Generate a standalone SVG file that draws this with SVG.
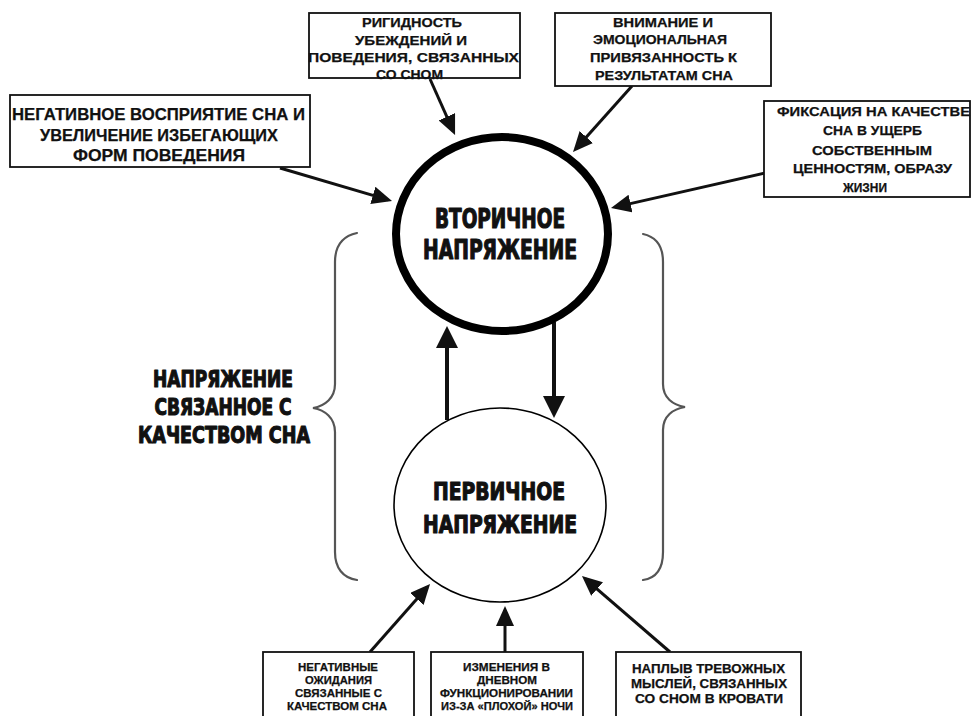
<svg xmlns="http://www.w3.org/2000/svg" width="971" height="716" viewBox="0 0 971 716">
<defs>
<style>
.box{fill:#fff;stroke:#111;stroke-width:1.8}
.bt{font-family:"Liberation Sans",Arial,sans-serif;font-weight:bold;text-anchor:middle;fill:#111;stroke:#111;stroke-width:0.25}
.s13{font-size:13px}
.s11{font-size:11px}
.s16{font-size:16.5px}
.hd{font-family:"DejaVu Sans Condensed","DejaVu Sans",sans-serif;font-weight:bold;text-anchor:middle;fill:#111;stroke:#111;stroke-width:1.1;stroke-linejoin:round}
.brace{fill:none;stroke:#555;stroke-width:2.2;stroke-linecap:round}
.arr{stroke:#111;stroke-width:3;fill:none;marker-end:url(#ah)}
.arrT{stroke:#111;stroke-width:4;fill:none;marker-end:url(#ahT)}
</style>
<marker id="ah" viewBox="0 0 20 18" markerWidth="20" markerHeight="18" refX="16" refY="9" orient="auto" markerUnits="userSpaceOnUse">
<path d="M0,0 L20,9 L0,18 z" fill="#111"/>
</marker>
<marker id="ahT" viewBox="0 0 22 22" markerWidth="22" markerHeight="22" refX="18" refY="11" orient="auto" markerUnits="userSpaceOnUse">
<path d="M0,0 L22,11 L0,22 z" fill="#111"/>
</marker>
</defs>
<rect width="971" height="716" fill="#fff"/>

<g id="connectors">
<line class="arr" x1="430" y1="79" x2="453.4" y2="131.3"/>
<line class="arr" x1="280" y1="168" x2="388.2" y2="199.9"/>
<line class="arr" x1="632" y1="86" x2="575.7" y2="149"/>
<line class="arr" x1="765" y1="173" x2="614.9" y2="207.1"/>
<line class="arrT" x1="447" y1="420" x2="447" y2="330"/>
<line class="arrT" x1="554" y1="322" x2="554" y2="414"/>
<line class="arr" x1="370" y1="652" x2="427.4" y2="587"/>
<line class="arr" x1="505" y1="652" x2="505" y2="610"/>
<line class="arr" x1="670" y1="652" x2="585" y2="578.6"/>
</g>

<g id="secondary-stress">
<ellipse cx="502" cy="234" rx="106" ry="97" fill="#fff" stroke="#000" stroke-width="8"/>
<text class="hd" x="500" y="228" font-size="26" textLength="130" lengthAdjust="spacingAndGlyphs">ВТОРИЧНОЕ</text>
<text class="hd" x="500" y="259" font-size="26" textLength="154" lengthAdjust="spacingAndGlyphs">НАПРЯЖЕНИЕ</text>
</g>

<g id="primary-stress">
<ellipse cx="500" cy="505" rx="106" ry="97" fill="#fff" stroke="#000" stroke-width="1.6"/>
<text class="hd" x="499" y="500" font-size="24" textLength="132" lengthAdjust="spacingAndGlyphs">ПЕРВИЧНОЕ</text>
<text class="hd" x="500" y="533" font-size="24" textLength="154" lengthAdjust="spacingAndGlyphs">НАПРЯЖЕНИЕ</text>
</g>

<g id="sleep-quality-stress">
<path class="brace" d="M357,233 C343,236 335,246 335,262 L335,384 C335,398 325,406 313,408 C325,410 335,418 335,432 L335,552 C335,568 343,578 357,580"/>
<path class="brace" d="M643,234 C657,237 663,246 663,262 L663,384 C663,398 673,405 685,407 C673,409 663,416 663,430 L663,552 C663,568 657,578 643,580"/>
<text class="hd" x="223" y="387" font-size="23" textLength="140" lengthAdjust="spacingAndGlyphs">НАПРЯЖЕНИЕ</text>
<text class="hd" x="223" y="415" font-size="23" textLength="137" lengthAdjust="spacingAndGlyphs">СВЯЗАННОЕ С</text>
<text class="hd" x="224" y="443" font-size="23" textLength="172" lengthAdjust="spacingAndGlyphs">КАЧЕСТВОМ СНА</text>
</g>

<g id="box-rigidity">
<rect class="box" x="309" y="13" width="211" height="65"/>
<text class="bt s13" x="412" y="27" textLength="100" lengthAdjust="spacingAndGlyphs">РИГИДНОСТЬ</text>
<text class="bt s13" x="411" y="45" textLength="112" lengthAdjust="spacingAndGlyphs">УБЕЖДЕНИЙ И</text>
<text class="bt s13" x="413.5" y="62" textLength="211" lengthAdjust="spacingAndGlyphs">ПОВЕДЕНИЯ, СВЯЗАННЫХ</text>
<text class="bt s13" x="409.5" y="79" textLength="67" lengthAdjust="spacingAndGlyphs">СО СНОМ</text>
</g>

<g id="box-negative-perception">
<rect class="box" x="10" y="95" width="300" height="72"/>
<text class="bt s16" x="158.5" y="120" textLength="293" lengthAdjust="spacingAndGlyphs">НЕГАТИВНОЕ ВОСПРИЯТИЕ СНА И</text>
<text class="bt s16" x="159" y="141" textLength="238" lengthAdjust="spacingAndGlyphs">УВЕЛИЧЕНИЕ ИЗБЕГАЮЩИХ</text>
<text class="bt s16" x="159" y="161" textLength="172" lengthAdjust="spacingAndGlyphs">ФОРМ ПОВЕДЕНИЯ</text>
</g>

<g id="box-attention">
<rect class="box" x="555" y="13" width="216" height="73"/>
<text class="bt s13" x="663" y="27" textLength="100" lengthAdjust="spacingAndGlyphs">ВНИМАНИЕ И</text>
<text class="bt s13" x="660" y="44" textLength="134" lengthAdjust="spacingAndGlyphs">ЭМОЦИОНАЛЬНАЯ</text>
<text class="bt s13" x="663.5" y="62" textLength="147" lengthAdjust="spacingAndGlyphs">ПРИВЯЗАННОСТЬ К</text>
<text class="bt s13" x="664" y="80" textLength="138" lengthAdjust="spacingAndGlyphs">РЕЗУЛЬТАТАМ СНА</text>
</g>

<g id="box-fixation">
<rect class="box" x="764" y="101" width="206" height="96"/>
<text class="bt s13" x="873.5" y="116" textLength="193" lengthAdjust="spacingAndGlyphs">ФИКСАЦИЯ НА КАЧЕСТВЕ</text>
<text class="bt s13" x="872.5" y="135" textLength="99" lengthAdjust="spacingAndGlyphs">СНА В УЩЕРБ</text>
<text class="bt s13" x="872" y="155" textLength="120" lengthAdjust="spacingAndGlyphs">СОБСТВЕННЫМ</text>
<text class="bt s13" x="872.5" y="173" textLength="159" lengthAdjust="spacingAndGlyphs">ЦЕННОСТЯМ, ОБРАЗУ</text>
<text class="bt s13" x="865" y="192" textLength="44" lengthAdjust="spacingAndGlyphs">ЖИЗНИ</text>
</g>

<g id="box-negative-expectations">
<rect class="box" x="263" y="652" width="151" height="80"/>
<text class="bt s11" x="338" y="671" textLength="80" lengthAdjust="spacingAndGlyphs">НЕГАТИВНЫЕ</text>
<text class="bt s11" x="338.5" y="684" textLength="67" lengthAdjust="spacingAndGlyphs">ОЖИДАНИЯ</text>
<text class="bt s11" x="338.5" y="697" textLength="87" lengthAdjust="spacingAndGlyphs">СВЯЗАННЫЕ С</text>
<text class="bt s11" x="337" y="710" textLength="100" lengthAdjust="spacingAndGlyphs">КАЧЕСТВОМ СНА</text>
</g>

<g id="box-daytime-changes">
<rect class="box" x="431" y="652" width="152" height="80"/>
<text class="bt s11" x="506.5" y="671" textLength="87" lengthAdjust="spacingAndGlyphs">ИЗМЕНЕНИЯ В</text>
<text class="bt s11" x="507" y="684" textLength="60" lengthAdjust="spacingAndGlyphs">ДНЕВНОМ</text>
<text class="bt s11" x="506.5" y="697" textLength="133" lengthAdjust="spacingAndGlyphs">ФУНКЦИОНИРОВАНИИ</text>
<text class="bt s11" x="507" y="710" textLength="132" lengthAdjust="spacingAndGlyphs">ИЗ-ЗА «ПЛОХОЙ» НОЧИ</text>
</g>

<g id="box-anxious-thoughts">
<rect class="box" x="616" y="652" width="185" height="80"/>
<text class="bt s13" x="708.5" y="673" textLength="153" lengthAdjust="spacingAndGlyphs">НАПЛЫВ ТРЕВОЖНЫХ</text>
<text class="bt s13" x="709" y="688" textLength="156" lengthAdjust="spacingAndGlyphs">МЫСЛЕЙ, СВЯЗАННЫХ</text>
<text class="bt s13" x="709" y="703" textLength="148" lengthAdjust="spacingAndGlyphs">СО СНОМ В КРОВАТИ</text>
</g>
</svg>
